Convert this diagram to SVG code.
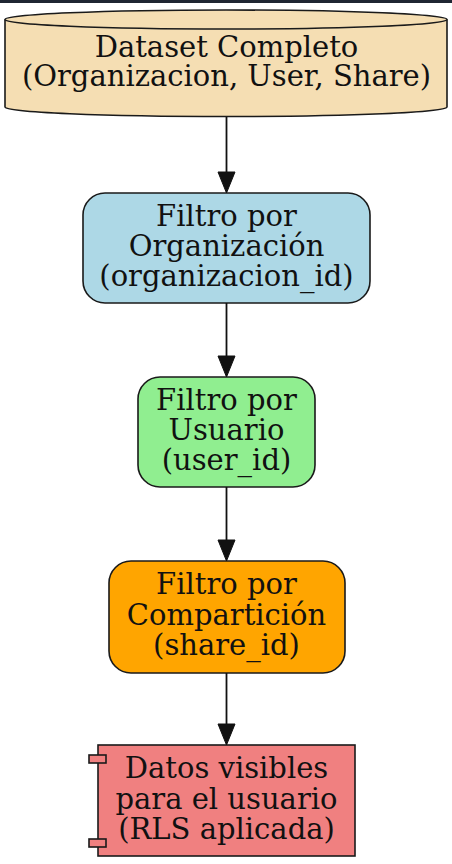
<svg xmlns="http://www.w3.org/2000/svg" width="452" height="864" viewBox="0 0 452 864">
<style>
.n{stroke:#1a1a1a;stroke-width:1.6}
.t{font-family:"DejaVu Serif","Liberation Serif",serif;font-size:29px;fill:#111;text-anchor:middle}
.e{stroke:#111;stroke-width:1.8;fill:none}
.h{fill:#111;stroke:#111;stroke-width:1}
</style>
<rect x="0" y="0" width="452" height="864" fill="#ffffff"/>
<rect x="0" y="0" width="452" height="3" fill="#1f2632"/>
<g id="dataset">
<path class="n" fill="#f5deb3" d="M5,19.5 A221,9.5 0 0 1 447,19.5 L447,107 A221,9.5 0 0 1 5,107 Z"/>
<path class="n" fill="none" d="M5,19.5 A221,9.5 0 0 0 447,19.5"/>
<text class="t" x="226.5" y="57">Dataset Completo</text>
<text class="t" x="226.5" y="86">(Organizacion, User, Share)</text>
</g>
<g id="org">
<rect class="n" fill="#add8e6" x="83" y="193" width="287" height="110" rx="22"/>
<text class="t" x="226.5" y="226">Filtro por</text>
<text class="t" x="226.5" y="256">Organización</text>
<text class="t" x="226.5" y="286">(organizacion_id)</text>
</g>
<g id="user">
<rect class="n" fill="#90ee90" x="138" y="377" width="177" height="110" rx="22"/>
<text class="t" x="226.5" y="410">Filtro por</text>
<text class="t" x="226.5" y="440">Usuario</text>
<text class="t" x="226.5" y="470">(user_id)</text>
</g>
<g id="share">
<rect class="n" fill="#ffa500" x="109" y="561" width="236" height="112" rx="22"/>
<text class="t" x="226.5" y="594">Filtro por</text>
<text class="t" x="226.5" y="625">Compartición</text>
<text class="t" x="226.5" y="655">(share_id)</text>
</g>
<g id="result">
<rect class="n" fill="#f08080" x="98" y="745" width="257" height="111"/>
<rect class="n" fill="#f08080" x="89" y="755" width="17" height="8"/>
<rect class="n" fill="#f08080" x="89" y="839" width="17" height="8"/>
<text class="t" x="226.5" y="778">Datos visibles</text>
<text class="t" x="226.5" y="809">para el usuario</text>
<text class="t" x="226.5" y="839">(RLS aplicada)</text>
</g>
<g id="edges">
<line class="e" x1="226.5" y1="117" x2="226.5" y2="173"/>
<polygon class="h" points="218,172 235,172 226.5,193"/>
<line class="e" x1="226.5" y1="303" x2="226.5" y2="357"/>
<polygon class="h" points="218,356 235,356 226.5,377"/>
<line class="e" x1="226.5" y1="487" x2="226.5" y2="541"/>
<polygon class="h" points="218,540 235,540 226.5,561"/>
<line class="e" x1="226.5" y1="673" x2="226.5" y2="725"/>
<polygon class="h" points="218,724 235,724 226.5,745"/>
</g>
</svg>
